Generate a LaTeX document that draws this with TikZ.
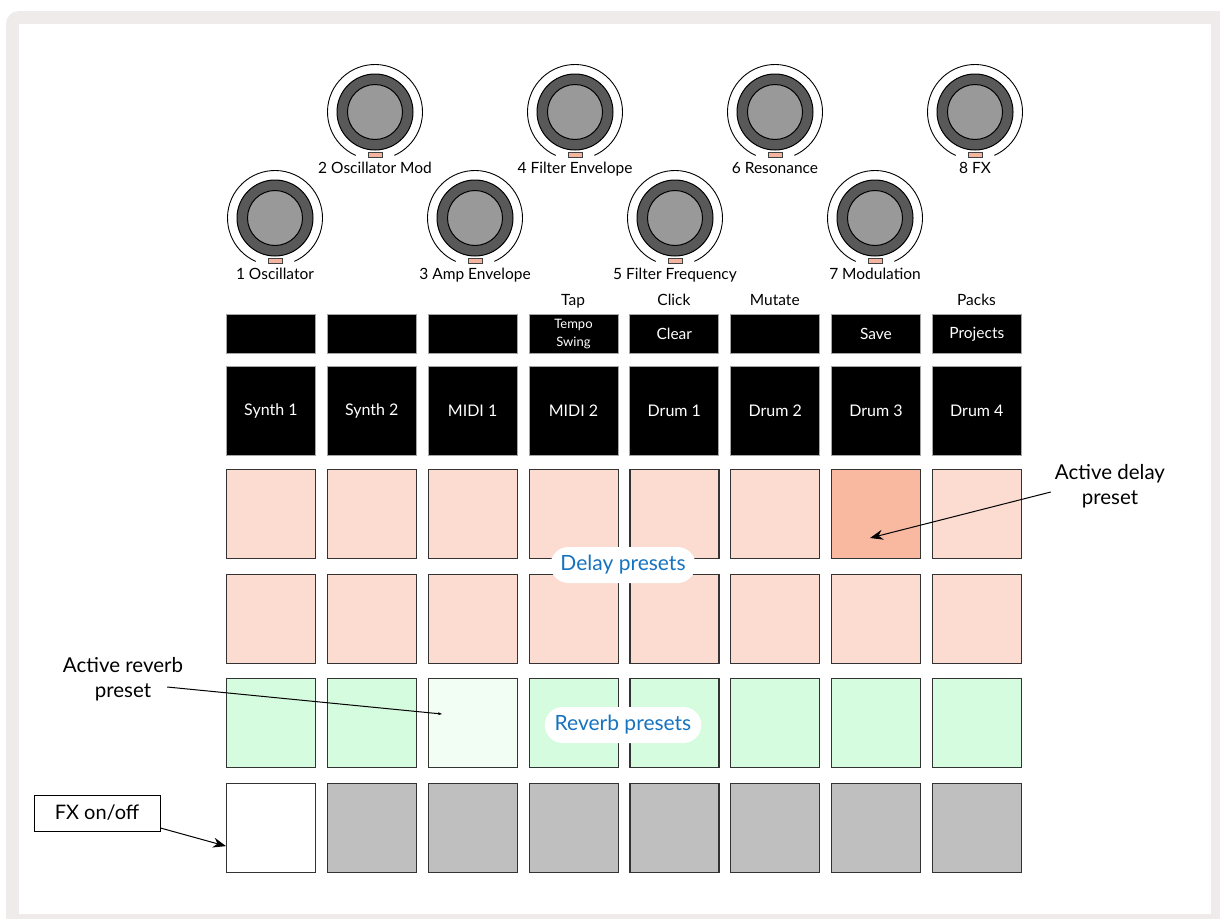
\documentclass[tikz,border=0pt]{standalone}
\usepackage{fontspec}
\setmainfont{Lato}
\usetikzlibrary{arrows.meta,positioning}
\definecolor{framegray}{RGB}{238,235,234}
\definecolor{delaypad}{RGB}{252,219,208}
\definecolor{delayact}{RGB}{248,185,160}
\definecolor{reverbpad}{RGB}{213,252,223}
\definecolor{reverbact}{RGB}{242,253,244}
\definecolor{offpad}{RGB}{191,191,191}
\definecolor{ringgray}{RGB}{89,89,89}
\definecolor{capgray}{RGB}{153,153,153}
\definecolor{ledpink}{RGB}{245,180,160}
\definecolor{presetblue}{RGB}{22,115,192}
\newcommand{\labelfont}{\fontsize{15.5}{18}\selectfont}
\newcommand{\tempofont}{\fontsize{13}{15}\selectfont}
\tikzset{
  pad/.style={rectangle,draw=black!80,line width=1.2pt,fill=#1,
              minimum width=89pt,minimum height=89pt,anchor=north west,
              inner sep=0pt},
  pad/.default=delaypad,
  trackbtn/.style={rectangle,draw=black!35,line width=0.8pt,fill=black,
                   text=white,minimum width=89pt,minimum height=89pt,
                   anchor=north west,inner sep=0pt,
                   font=\fontsize{16}{18}\selectfont},
  funcbtn/.style={trackbtn,minimum height=39pt,align=center,
                  font=\labelfont},
  keylabel/.style={inner sep=0pt,anchor=base,font=\labelfont},
  knobring/.style={circle,draw=black,line width=1pt,fill=ringgray,
                   minimum size=76pt,inner sep=0pt},
  knobcap/.style={circle,draw=black,line width=1pt,fill=capgray,
                  minimum size=55pt,inner sep=0pt},
  led/.style={rectangle,draw=black!75,line width=0.7pt,fill=ledpink,
              minimum width=14pt,minimum height=5pt,inner sep=0pt},
  presetpill/.style={rectangle,rounded corners=18pt,fill=white,
                     text=presetblue,minimum height=36pt,inner xsep=10pt,
                     font=\fontsize{21}{23}\selectfont},
  note/.style={align=center,inner sep=0pt,font=\fontsize{20.5}{25.5}\selectfont},
  fxbox/.style={rectangle,draw=black,line width=1pt,minimum width=126pt,
                minimum height=36pt,font=\fontsize{20}{22}\selectfont},
  pointer/.style={-{Stealth[length=13pt,width=10pt]},line width=1pt},
}

\begin{document}
\begin{tikzpicture}[x=1pt,y=-1pt]

  % frame
  \useasboundingbox (0,0) rectangle (1220,918);
  \fill[framegray,rounded corners=13pt] (6,11) rectangle (1240,940);
  \fill[white] (19,24) rectangle (1211,914);

  % knobs
  \foreach \k/\ky/\kname in {1/218/1 Oscillator,2/112/2 Oscillator Mod,
      3/218/3 Amp Envelope,4/112/4 Filter Envelope,
      5/218/5 Filter Frequency,6/112/6 Resonance,
      7/218/7 Modulation,8/112/8 FX}{
    \pgfmathsetmacro\kx{175+100*\k}
    \draw[line width=0.9pt] (\kx,\ky) ++(114:47.5)
      arc[start angle=114,end angle=426,radius=47.5];
    \node[knobring] (k\k) at (\kx,\ky) {};
    \node[knobcap] (c\k) at (k\k) {};
    \node[led] (l\k) at (\kx,\ky+43) {};
    \node[keylabel] (kl\k) at (\kx,\ky+61) {\kname};
  }

  % function and track buttons
  \foreach \c/\trk/\fn in {1/Synth 1/,2/Synth 2/,3/MIDI 1/,
      4/MIDI 2/{\tempofont Tempo\\\tempofont Swing},5/Drum 1/Clear,
      6/Drum 2/,7/Drum 3/Save,8/Drum 4/Projects}{
    \pgfmathsetmacro\px{226+100.85*(\c-1)}
    \node[funcbtn] (f\c) at (\px,314) {\fn};
    \node[trackbtn] (b\c) at (\px,366) {\trk};
  }
  \foreach \c/\top in {4/Tap,5/Click,6/Mutate,8/Packs}{
    \pgfmathsetmacro\px{226+100.85*(\c-1)+44.5}
    \node[keylabel] (t\c) at (\px,305) {\top};
  }

  % pads
  \foreach \c/\dc/\rc/\xc in {1/delaypad/reverbpad/white,
      2/delaypad/reverbpad/offpad,3/delaypad/reverbact/offpad,
      4/delaypad/reverbpad/offpad,5/delaypad/reverbpad/offpad,
      6/delaypad/reverbpad/offpad,7/delayact/reverbpad/offpad,
      8/delaypad/reverbpad/offpad}{
    \pgfmathsetmacro\px{226+100.85*(\c-1)}
    \node[pad=\dc] (d\c) at (\px,469) {};
    \node[pad] (e\c) at (\px,573.5) {};
    \node[pad=\rc] (r\c) at (\px,678) {};
    \node[pad=\xc] (x\c) at (\px,783) {};
  }

  \node[presetpill] (dp) at (623,565) {Delay presets};
  \node[presetpill] (rp) at (623,725) {Reverb presets};

  % annotations
  \node[note] (ad) at (1110,486) {Active delay\\preset};
  \coordinate (adtip) at (870,538);
  \draw[pointer] ([shift={(-4pt,-6pt)}]ad.west) -- (adtip);

  \node[note] (ar) at (123,679) {Active reverb\\preset};
  \coordinate (artip) at (442,714);
  \draw[-{Stealth[length=4pt,width=3pt]},line width=1pt]
    ([shift={(-16pt,-8pt)}]ar.east) -- (artip);

  \node[fxbox] (fx) at (97,813) {FX on/off};
  \draw[pointer] ([yshift=-15pt]fx.east) -- ([yshift=-18pt]x1.west);

\end{tikzpicture}
\end{document}
